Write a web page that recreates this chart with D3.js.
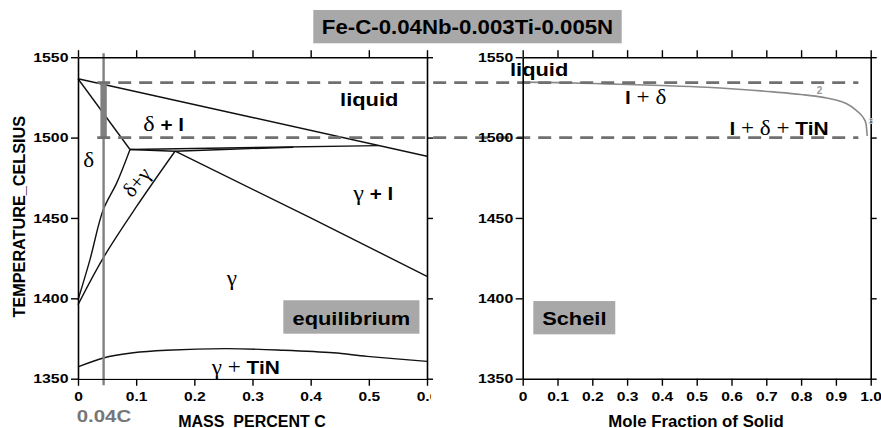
<!DOCTYPE html>
<html><head><meta charset="utf-8">
<script src="https://cdn.jsdelivr.net/npm/d3@7"></script>
<style>
body{margin:0;background:#fff;}
svg{display:block;font-family:"Liberation Sans",Arial,sans-serif;}
text{white-space:pre;}
</style></head><body>
<svg id="chart" width="881" height="428"></svg>
<script>
// ---------------- data ----------------
const titleText = "Fe-C-0.04Nb-0.003Ti-0.005N";
const tempTicks = [1350, 1400, 1450, 1500, 1550];
const carbonTicks = [0, 0.1, 0.2, 0.3, 0.4, 0.5, 0.6];
const carbonTickLabels = ["0", "0.1", "0.2", "0.3", "0.4", "0.5", "0.6"];
const fractionTicks = [0, 0.1, 0.2, 0.3, 0.4, 0.5, 0.6, 0.7, 0.8, 0.9, 1.0];
const fractionTickLabels = ["0", "0.1", "0.2", "0.3", "0.4", "0.5", "0.6", "0.7", "0.8", "0.9", "1.0"];

// equilibrium phase boundaries: [mass % C, temperature °C]
const liquidus = [[0, 1536.6], [0.3, 1512.5], [0.6, 1488.4]];
const deltaSolidus = [[0, 1536.6], [0.0894, 1492.6]];
const peritecticUpper = [[0.0894, 1492.6], [0.517, 1495.0]];
const peritecticLower = [[0.0894, 1492.6], [0.167, 1491.5], [0.25, 1492.6], [0.37, 1494.0]];
const gammaLiquidus = [[0.167, 1491.5], [0.4, 1450.0], [0.6, 1413.7]];
const deltaBoundary = [[0.0894, 1492.6], [0.0666, 1471.8], [0.0435, 1455.2], [0.0206, 1424.1], [0, 1399]];
const gammaBoundary = [[0.1668, 1491.5], [0.101, 1457.3], [0.0435, 1425.2], [0, 1396]];
const tinSolvus = [[0, 1357.3], [0.0436, 1362.9], [0.095, 1366.1], [0.152, 1367.7], [0.256, 1368.7],
                   [0.353, 1367.7], [0.439, 1366.1], [0.497, 1363.9], [0.6, 1360.8]];

// Scheil solidification: [mole fraction solid, temperature °C]
const scheilCurve = [[0, 1534.5], [0.1, 1534.2], [0.241, 1533.4], [0.4, 1532.4], [0.529, 1531.3],
                     [0.72, 1528.4], [0.8, 1526.8], [0.864, 1525.0], [0.9, 1523.4], [0.931, 1521.0],
                     [0.955, 1517.6], [0.9695, 1514.8], [0.98, 1512.0], [0.9865, 1508.6], [0.99, 1501.0]];

const dashedTemps = [1534.2, 1500];
const markerCarbon = 0.044;

// ---------------- layout ----------------
const svg = d3.select("#chart");
const xL = d3.scaleLinear().domain([0, 0.6]).range([78, 427]);
const xR = d3.scaleLinear().domain([0, 1]).range([522.7, 870.7]);
const y = d3.scaleLinear().domain([1350, 1550]).range([378.7, 57.2]);

// clip for the left plot's bottom labels (last label cut off)
svg.append("defs").append("clipPath").attr("id", "clipL")
  .append("rect").attr("x", 0).attr("y", 0).attr("width", 431).attr("height", 428);

function styleAxis(g) {
  g.selectAll("path.domain").attr("stroke", "#000").attr("stroke-width", 1.6);
  g.selectAll(".tick line").attr("stroke", "#000").attr("stroke-width", 1.4);
  g.selectAll("text").attr("fill", "#000").attr("font-weight", "bold")
    .attr("font-size", 13).attr("font-family", '"Liberation Sans",Arial,sans-serif');
}

function drawFrame(x, ticksX, labelsX, clip) {
  const left = x.range()[0], right = x.range()[1];
  const gl = svg.append("g").attr("transform", `translate(${left},0)`)
    .call(d3.axisLeft(y).tickValues(tempTicks).tickSize(7).tickSizeOuter(0).tickFormat(d3.format("d")));
  styleAxis(gl);
  gl.selectAll("text").attr("x", -9.5 / 1.22).attr("transform", "scale(1.22,1)");
  const gr = svg.append("g").attr("transform", `translate(${right},0)`)
    .call(d3.axisRight(y).tickValues(tempTicks).tickSize(6).tickSizeOuter(0).tickFormat(""));
  styleAxis(gr);
  const gt = svg.append("g").attr("transform", `translate(0,${y(1550)})`)
    .call(d3.axisTop(x).tickValues(ticksX).tickSize(7).tickSizeOuter(0).tickFormat(""));
  styleAxis(gt);
  const gb = svg.append("g").attr("transform", `translate(0,${y(1350)})`)
    .call(d3.axisBottom(x).tickValues(ticksX).tickSize(7).tickSizeOuter(0)
      .tickFormat((d, i) => labelsX[i]));
  styleAxis(gb);
  gb.selectAll("text").attr("y", 13.5).attr("dy", "0.71em").attr("transform", "scale(1.2,1)");
  if (clip) gb.attr("clip-path", "url(#clipL)");
}

const line = (x, curve) => d3.line().x(d => x(d[0])).y(d => y(d[1])).curve(curve || d3.curveLinear);
const phaseG = svg.append("g").attr("fill", "none").attr("stroke", "#111").attr("stroke-width", 1.4);
const straight = [liquidus, deltaSolidus, peritecticUpper, peritecticLower, gammaLiquidus];
straight.forEach(d => phaseG.append("path").attr("d", line(xL)(d)));
[deltaBoundary, gammaBoundary, tinSolvus].forEach(d =>
  phaseG.append("path").attr("d", line(xL, d3.curveCatmullRom.alpha(0.5))(d)));

// Scheil curve
svg.append("path").attr("fill", "none").attr("stroke", "#8a8a8a").attr("stroke-width", 1.6)
  .attr("d", line(xR, d3.curveMonotoneX)(scheilCurve));

// 0.04C marker line
svg.append("line").attr("x1", xL(markerCarbon)).attr("x2", xL(markerCarbon))
  .attr("y1", y(1552.5)).attr("y2", y(1346)).attr("stroke", "#808080").attr("stroke-width", 2.4);
svg.append("rect").attr("x", xL(markerCarbon) - 3.2).attr("width", 6.4)
  .attr("y", y(dashedTemps[0])).attr("height", y(dashedTemps[1]) - y(dashedTemps[0]))
  .attr("fill", "#808080");

// dashed reference temperatures across both plots
dashedTemps.forEach(t => {
  svg.append("line").attr("x1", xL(0.033)).attr("x2", xR(0.9645))
    .attr("y1", y(t)).attr("y2", y(t))
    .attr("stroke", "#707070").attr("stroke-width", 2.6).attr("stroke-dasharray", "13,8");
});

drawFrame(xL, carbonTicks, carbonTickLabels, true);
drawFrame(xR, fractionTicks, fractionTickLabels, false);

// ---------------- labels ----------------
const SANS = '"Liberation Sans",Arial,sans-serif';
const SERIF = '"Liberation Serif","Times New Roman",serif';
function label(px, py, parts, opts) {
  opts = opts || {};
  const t = svg.append("text")
    .attr("transform", `translate(${px},${py}) rotate(${opts.rot || 0}) scale(${opts.sx || 1},1)`)
    .attr("text-anchor", opts.anchor || "start")
    .attr("fill", opts.fill || "#000");
  parts.forEach(p => {
    t.append("tspan").text(p.t)
      .attr("font-family", p.serif ? SERIF : SANS)
      .attr("font-weight", p.serif ? "normal" : "bold")
      .attr("font-size", p.size);
  });
  return t;
}
const B = (t, size) => ({ t, size: size || 19 });
const S = (t, size) => ({ t, size: size || 21, serif: true });

// title
svg.append("rect").attr("x", 313.3).attr("y", 10).attr("width", 308.4).attr("height", 33.3).attr("fill", "#a8a8a8");
label(467.5, 33.5, [B(titleText, 21)], { anchor: "middle", sx: 1.06 });

// left plot labels
label(xL(0.4506), y(1519.5), [B("liquid")], { sx: 1.15 });
label(xL(0.1123), y(1504.0), [S("δ"), B(" + l", 18)], { sx: 1.15 });
label(xL(0.0091), y(1482.0), [S("δ")], { sx: 1.1 });
label(xL(0.1100), y(1469.5), [S("δ+γ", 21)], { anchor: "middle", rot: -50 });
label(xL(0.4734), y(1461.4), [S("γ"), B(" + l", 18)], { sx: 1.15 });
label(xL(0.2557), y(1408.6), [S("γ")], { sx: 1.1 });
label(xL(0.230), y(1353.0), [S("γ"), S(" + "), B("TiN")], { sx: 1.1 });

svg.append("rect").attr("x", xL(0.353)).attr("y", y(1398.8))
  .attr("width", xL(0.587) - xL(0.353)).attr("height", y(1378) - y(1398.8)).attr("fill", "#a8a8a8");
label((xL(0.353) + xL(0.587)) / 2, y(1383.7), [B("equilibrium")], { anchor: "middle", sx: 1.15 });

// right plot labels
label(xR(-0.0365), y(1538.0), [B("liquid")], { sx: 1.15 });
label(xR(0.294), y(1520.6), [B("l", 19), S(" + δ")], { sx: 1.1 });
label(xR(0.594), y(1501.3), [B("l", 19), S(" + δ + "), B("TiN")], { sx: 1.1 });
label(xR(0.845), y(1526.8), [{ t: "2", size: 10 }], { fill: "#999" });
label(xR(0.993), y(1508.5), [{ t: "3", size: 9 }], { fill: "#bbb" });

svg.append("rect").attr("x", xR(0.0305)).attr("y", y(1398.3))
  .attr("width", xR(0.266) - xR(0.0305)).attr("height", y(1377.6) - y(1398.3)).attr("fill", "#a8a8a8");
label((xR(0.0305) + xR(0.266)) / 2, y(1383.1), [B("Scheil")], { anchor: "middle", sx: 1.15 });

// axis titles
label(25, 216.7, [B("TEMPERATURE_CELSIUS", 17)], { anchor: "middle", rot: -90, sx: 0.955 });
label(252, 426.5, [B("MASS  PERCENT C", 16)], { anchor: "middle" });
label(696, 426.5, [B("Mole Fraction of Solid", 16)], { anchor: "middle", sx: 1.05 });
label(xL(0) - 1.3, 421.7, [B("0.04C", 17)], { sx: 1.2, fill: "#777" });
</script>
</body></html>
